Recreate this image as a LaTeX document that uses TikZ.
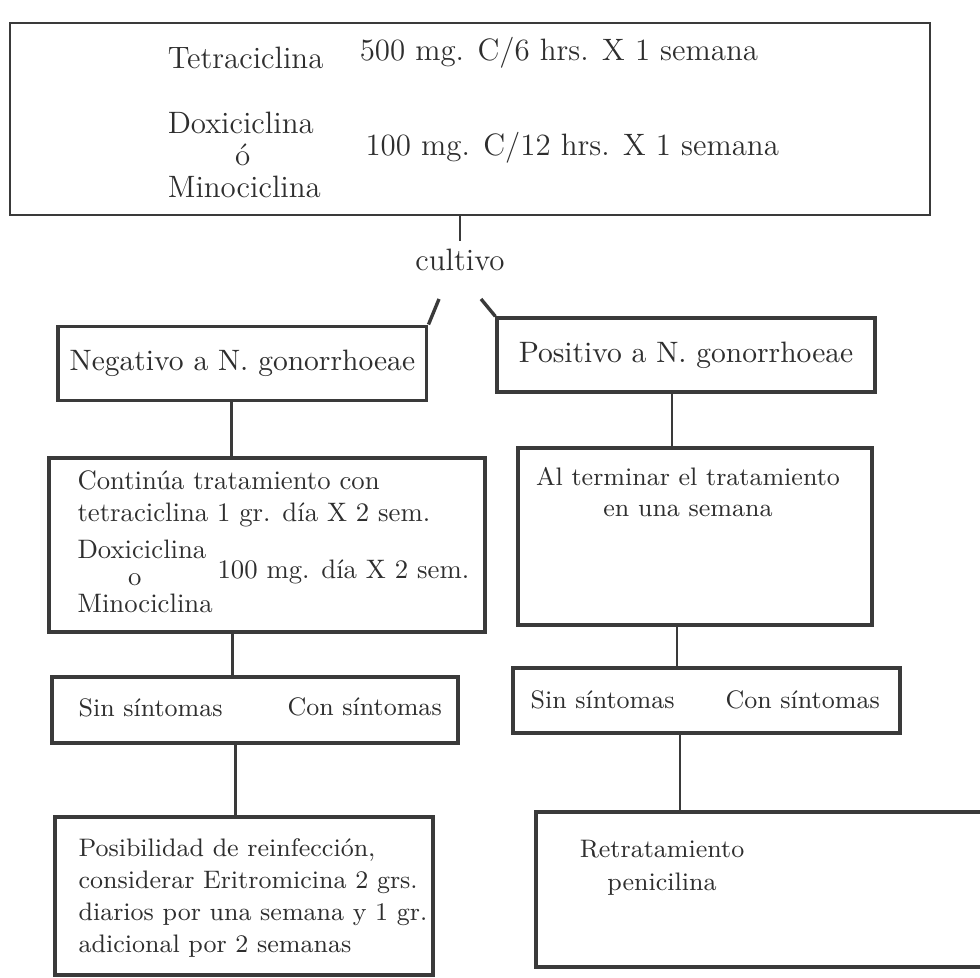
\documentclass[tikz,border=0pt]{standalone}
\usepackage{fontspec}
\usepackage{xcolor}
\definecolor{tinta}{HTML}{2E2E2E}
\definecolor{trazo}{HTML}{3A3A3A}
\usetikzlibrary{calc}

\begin{document}
\begin{tikzpicture}[
    caja/.style={draw=trazo,line width=1.2pt,inner sep=0pt,text=tinta},
    linea/.style={draw=trazo,line width=1pt},
    grande/.style={inner sep=0pt,text=tinta,font=\fontsize{11}{13}\selectfont},
    chico/.style={inner sep=0pt,text=tinta,font=\fontsize{9.5}{11.4}\selectfont}
]
\clip (0,0) rectangle (12.25,-12.2125);
\fill[white] (0,0) rectangle (12.25,-12.2125);

% tratamiento inicial
\node[caja,line width=1pt,minimum width=11.5cm,minimum height=2.4cm] (inicial) at (5.875,-1.4875) {};
\node[grande,anchor=west] (tetra) at (2.09,-0.72) {Tetraciclina};
\node[grande,anchor=west] (dosis1) at (4.49,-0.66) {500 mg. C/6 hrs. X 1 semana};
\node[grande,anchor=west,align=left,font=\fontsize{11}{11.4}\selectfont] (doxi) at (2.09,-1.94) {Doxiciclina\\\hspace*{24pt}ó\\Minociclina};
\node[grande,anchor=west] (dosis2) at (4.5625,-1.85) {100 mg. C/12 hrs. X 1 semana};

% cultivo
\node[grande,inner sep=1mm] (cultivo) at (5.75,-3.25) {cultivo};
\draw[linea,line width=0.8pt] (cultivo.north |- inicial.south) -- (cultivo.north);
\coordinate (izq) at (5.4875,-3.7375);
\coordinate (der) at (6.0125,-3.7375);

% resultado
\node[caja,minimum width=4.61cm,minimum height=0.925cm,font=\fontsize{10.5}{12}\selectfont] (negativo) at (3.03,-4.54) {Negativo a N. gonorrhoeae};
\node[caja,minimum width=4.725cm,minimum height=0.925cm,font=\fontsize{10.5}{12}\selectfont] (positivo) at (8.575,-4.4375) {Positivo a N. gonorrhoeae};
\draw[linea,line width=1.2pt] (izq) -- (negativo.north east);
\draw[linea,line width=1.2pt] (der) -- (positivo.north west);

% segundo nivel
\node[caja,minimum width=5.45cm,minimum height=2.175cm] (continua) at (3.3375,-6.8125) {};
\node[chico,anchor=west,align=left] (continua1) at (0.9625,-6.2375) {Continúa tratamiento con\\tetraciclina 1 gr. día X 2 sem.};
\node[chico,anchor=west,align=left,font=\fontsize{9.5}{9.6}\selectfont] (minoc) at (0.9625,-7.206) {Doxiciclina\\\hspace*{18pt}o\\Minociclina};
\node[chico,anchor=west] (dosis3) at (2.7125,-7.15) {100 mg. día X 2 sem.};

\node[caja,minimum width=4.425cm,minimum height=2.2125cm] (terminar) at (8.6875,-6.706) {};
\node[chico,align=center,font=\fontsize{9}{11}\selectfont] (terminar1) at (8.6,-6.15) {Al terminar el tratamiento\\en una semana};

\draw[linea] ([xshift=-1.4mm]negativo.south) -- ([xshift=-1.4mm]negativo.south |- continua.north);
\draw[linea] ([xshift=-1.75mm]positivo.south) -- ([xshift=-1.75mm]positivo.south |- terminar.north);

% sintomas
\node[caja,minimum width=5.075cm,minimum height=0.825cm] (sinizq) at (3.1875,-8.875) {};
\node[chico,anchor=west,font=\fontsize{9}{11}\selectfont] (sin1) at (0.975,-8.85) {Sin síntomas};
\node[chico,anchor=west,font=\fontsize{9}{11}\selectfont] (con1) at (3.5875,-8.8375) {Con síntomas};

\node[caja,minimum width=4.8375cm,minimum height=0.8125cm] (sinder) at (8.83,-8.756) {};
\node[chico,anchor=west,font=\fontsize{9}{11}\selectfont] (sin2) at (6.625,-8.75) {Sin síntomas};
\node[chico,anchor=west,font=\fontsize{9}{11}\selectfont] (con2) at (9.0625,-8.75) {Con síntomas};

\draw[linea] ([xshift=-4.3mm]continua.south) -- ([xshift=-4.3mm]continua.south |- sinizq.north);
\draw[linea] ([xshift=-2.25mm]terminar.south) -- ([xshift=-2.25mm]terminar.south |- sinder.north);

% conducta final
\node[caja,minimum width=4.725cm,minimum height=1.975cm] (reinf) at (3.05,-11.2) {};
\node[chico,anchor=west,align=left,font=\fontsize{9}{11.3}\selectfont] (reinf1) at (0.975,-11.225) {Posibilidad de reinfección,\\considerar Eritromicina 2 grs.\\diarios por una semana y 1 gr.\\adicional por 2 semanas};

\node[caja,minimum width=5.8cm,minimum height=1.9375cm] (retrat) at (9.6,-11.12) {};
\node[chico,align=center,font=\fontsize{9}{11.7}\selectfont] (retrat1) at (8.275,-10.85) {Retratamiento\\penicilina};

\draw[linea] ([xshift=-2.4mm]sinizq.south) -- ([xshift=-2.4mm]sinizq.south |- reinf.north);
\draw[linea] ([xshift=-3.3mm]sinder.south) -- ([xshift=-3.3mm]sinder.south |- retrat.north);
\end{tikzpicture}
\end{document}
